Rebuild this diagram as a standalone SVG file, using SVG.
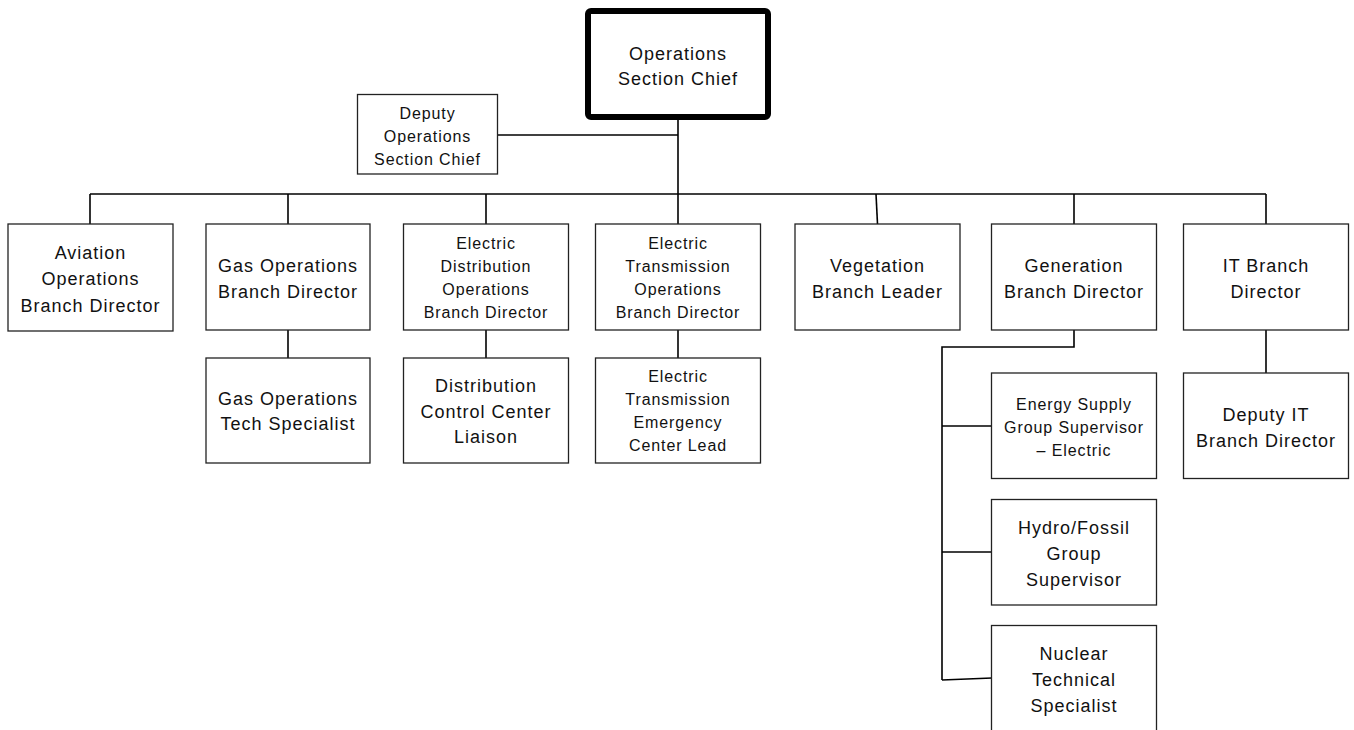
<svg xmlns="http://www.w3.org/2000/svg" width="1354" height="730" viewBox="0 0 1354 730">
<style>
.box{fill:#fff;stroke:#222;stroke-width:1.3}
.chief{fill:#fff;stroke:#000;stroke-width:6}
.l{font-family:"Liberation Sans",Arial,sans-serif;font-size:18px;letter-spacing:1px;fill:#111;text-anchor:middle}
.s{font-family:"Liberation Sans",Arial,sans-serif;font-size:16px;letter-spacing:0.9px;fill:#111;text-anchor:middle}
.c{fill:none;stroke:#000;stroke-width:1.6}
</style>
<rect width="1354" height="730" fill="#fff"/>
<g id="connectors" class="c">
<path d="M678 117V194"/>
<path d="M497.5 135H678"/>
<path d="M90 194H1266"/>
<path d="M90 194V224"/>
<path d="M288 194V224"/>
<path d="M486 194V224"/>
<path d="M678 194V224"/>
<path d="M876 194L877.5 224"/>
<path d="M1074 194V224"/>
<path d="M1266 194V224"/>
<path d="M288 330V358"/>
<path d="M486 330V358"/>
<path d="M678 330V358"/>
<path d="M1074 330V347H942V680"/>
<path d="M942 426H992"/>
<path d="M942 552H992"/>
<path d="M942 680L992 678"/>
<path d="M1266 330V373"/>
</g>
<g id="chief">
<rect class="chief" x="588" y="11" width="180" height="106" rx="3"/>
<text class="l" x="678" y="60">Operations</text>
<text class="l" x="678" y="85">Section Chief</text>
</g>
<g id="deputy">
<rect class="box" x="357.5" y="94.5" width="140" height="79.5"/>
<text class="s" x="427.5" y="119">Deputy</text>
<text class="s" x="427.5" y="142">Operations</text>
<text class="s" x="427.5" y="165">Section Chief</text>
</g>
<g id="aviation">
<rect class="box" x="8" y="224" width="165" height="107"/>
<text class="l" x="90.5" y="259">Aviation</text>
<text class="l" x="90.5" y="285">Operations</text>
<text class="l" x="90.5" y="311.5">Branch Director</text>
</g>
<g id="gas">
<rect class="box" x="206" y="224" width="164" height="106"/>
<text class="l" x="288" y="271.5">Gas Operations</text>
<text class="l" x="288" y="298">Branch Director</text>
</g>
<g id="electric-distribution">
<rect class="box" x="403.5" y="224" width="165" height="106"/>
<text class="s" x="486" y="249">Electric</text>
<text class="s" x="486" y="272">Distribution</text>
<text class="s" x="486" y="295">Operations</text>
<text class="s" x="486" y="318">Branch Director</text>
</g>
<g id="electric-transmission">
<rect class="box" x="595.5" y="224" width="165" height="106"/>
<text class="s" x="678" y="249">Electric</text>
<text class="s" x="678" y="272">Transmission</text>
<text class="s" x="678" y="295">Operations</text>
<text class="s" x="678" y="318">Branch Director</text>
</g>
<g id="vegetation">
<rect class="box" x="795" y="224" width="165" height="106"/>
<text class="l" x="877.5" y="271.5">Vegetation</text>
<text class="l" x="877.5" y="298">Branch Leader</text>
</g>
<g id="generation">
<rect class="box" x="991.5" y="224" width="165" height="106"/>
<text class="l" x="1074" y="271.5">Generation</text>
<text class="l" x="1074" y="298">Branch Director</text>
</g>
<g id="it">
<rect class="box" x="1183.5" y="224" width="165" height="106"/>
<text class="l" x="1266" y="271.5">IT Branch</text>
<text class="l" x="1266" y="298">Director</text>
</g>
<g id="gas-tech">
<rect class="box" x="206" y="358" width="164" height="105"/>
<text class="l" x="288" y="405">Gas Operations</text>
<text class="l" x="288" y="430">Tech Specialist</text>
</g>
<g id="distribution-liaison">
<rect class="box" x="403.5" y="358" width="165" height="105"/>
<text class="l" x="486" y="392">Distribution</text>
<text class="l" x="486" y="417.5">Control Center</text>
<text class="l" x="486" y="443">Liaison</text>
</g>
<g id="transmission-lead">
<rect class="box" x="595.5" y="358" width="165" height="105"/>
<text class="s" x="678" y="382">Electric</text>
<text class="s" x="678" y="405">Transmission</text>
<text class="s" x="678" y="428">Emergency</text>
<text class="s" x="678" y="451">Center Lead</text>
</g>
<g id="energy-supply">
<rect class="box" x="991.5" y="373" width="165" height="105.5"/>
<text class="s" x="1074" y="410">Energy Supply</text>
<text class="s" x="1074" y="433">Group Supervisor</text>
<text class="s" x="1074" y="456">– Electric</text>
</g>
<g id="hydro-fossil">
<rect class="box" x="991.5" y="499.5" width="165" height="105.5"/>
<text class="l" x="1074" y="533.5">Hydro/Fossil</text>
<text class="l" x="1074" y="560">Group</text>
<text class="l" x="1074" y="586">Supervisor</text>
</g>
<g id="nuclear">
<rect class="box" x="991.5" y="625.5" width="165" height="110"/>
<text class="l" x="1074" y="660">Nuclear</text>
<text class="l" x="1074" y="686">Technical</text>
<text class="l" x="1074" y="712">Specialist</text>
</g>
<g id="deputy-it">
<rect class="box" x="1183.5" y="373" width="165" height="105.5"/>
<text class="l" x="1266" y="420.5">Deputy IT</text>
<text class="l" x="1266" y="446.5">Branch Director</text>
</g>
</svg>
